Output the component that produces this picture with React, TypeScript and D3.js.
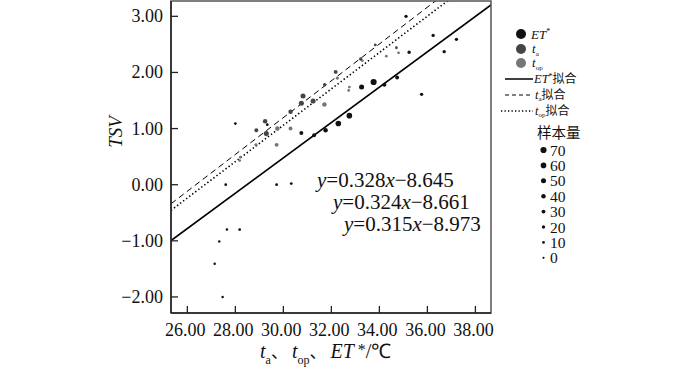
import React from "react";
import * as d3 from "d3";

// ---- data ----
// [x, TSV, sampleCount]
const etPoints: [number, number, number][] = [
  [28.0, 1.09, 10], [29.33, 1.07, 10], [30.75, 0.92, 30], [31.28, 0.88, 30],
  [31.76, 0.97, 40], [32.29, 1.09, 60], [32.75, 1.23, 60], [33.26, 1.74, 50],
  [33.76, 1.83, 70], [34.21, 1.78, 30], [34.74, 1.91, 30], [35.11, 3.0, 20],
  [35.24, 2.36, 20], [35.76, 1.61, 20], [36.24, 2.66, 20], [36.7, 2.37, 20],
  [37.21, 2.59, 20], [27.6, 0.0, 10], [29.72, 0.0, 10], [30.33, 0.02, 10],
  [27.65, -0.8, 5], [28.18, -0.8, 10], [27.33, -1.01, 5], [27.14, -1.41, 5],
  [27.47, -2.0, 5],
];
const taPoints: [number, number, number][] = [
  [28.875, 0.97, 30], [29.29, 0.91, 50], [29.24, 1.13, 40], [30.3, 1.3, 40],
  [30.82, 1.58, 50], [30.75, 1.45, 50], [31.24, 1.49, 50], [31.72, 1.78, 20],
  [32.18, 2.01, 30], [33.22, 2.24, 20], [33.83, 2.49, 10], [34.71, 2.44, 10],
];
const topPoints: [number, number, number][] = [
  [29.75, 1.0, 40], [30.3, 1.0, 30], [29.72, 0.71, 30], [28.86, 0.71, 20],
  [31.71, 1.43, 40], [32.25, 1.9, 20], [32.72, 1.68, 10], [32.75, 1.74, 10],
  [33.29, 2.21, 10], [34.29, 2.29, 10], [34.8, 2.35, 10], [28.18, 0.43, 10],
  [28.21, 0.49, 10],
];
// fits: [slope, intercept]
const fitEt: [number, number] = [0.315, -8.973];
const fitTa: [number, number] = [0.328, -8.645];
const fitTop: [number, number] = [0.324, -8.661];
const equations = ["0.328", "8.645", "0.324", "8.661", "0.315", "8.973"];
const xTicks = [26, 28, 30, 32, 34, 36, 38];
const yTicks = [-2, -1, 0, 1, 2, 3];
const sizeLegend = [70, 60, 50, 40, 30, 20, 10, 0];

const W = 700, H = 367;
const L = 171, R = 491, T = 1, B = 313;
const serif = "'Liberation Serif', 'Times New Roman', serif";
const cjk = "'Noto Sans CJK SC', sans-serif";

export default function App() {
  const x = d3.scaleLinear().domain([25.32, 38.65]).range([L, R]);
  const y = d3.scaleLinear().domain([-2.286, 3.273]).range([B, T]);
  const r = d3.scaleLinear().domain([0, 70]).range([1.1, 3.1]);
  const fitPath = (f: [number, number]) => {
    const xs = x.domain();
    return d3.line<[number, number]>().x((d) => x(d[0])).y((d) => y(d[1]))(
      xs.map((v) => [v, f[0] * v + f[1]] as [number, number])
    ) as string;
  };
  const cET = "#111", cTa = "#454545", cTop = "#767676";
  const eqX = [317, 333, 344];
  const eqY = [187, 209, 231];
  const eqs = [[equations[0], equations[1]], [equations[2], equations[3]], [equations[4], equations[5]]];

  return (
    <svg width={W} height={H} style={{ position: "absolute", left: 0, top: 0, background: "#fff" }}>
      <defs>
        <clipPath id="plot">
          <rect x={L} y={T} width={R - L} height={B - T} />
        </clipPath>
      </defs>
      <rect x={0} y={0} width={W} height={H} fill="#fff" />
      {/* fit lines */}
      <g clipPath="url(#plot)" fill="none" stroke="#000">
        <path d={fitPath(fitEt)} strokeWidth={1.7} />
        <path d={fitPath(fitTa)} strokeWidth={1} strokeDasharray="6,4" />
        <path d={fitPath(fitTop)} strokeWidth={1.6} strokeDasharray="1.4,2.4" />
      </g>
      {/* points */}
      <g clipPath="url(#plot)">
        {topPoints.map((p, i) => (
          <circle key={"o" + i} cx={x(p[0])} cy={y(p[1])} r={r(p[2])} fill={cTop} />
        ))}
        {taPoints.map((p, i) => (
          <circle key={"a" + i} cx={x(p[0])} cy={y(p[1])} r={r(p[2])} fill={cTa} />
        ))}
        {etPoints.map((p, i) => (
          <circle key={"e" + i} cx={x(p[0])} cy={y(p[1])} r={r(p[2])} fill={cET} />
        ))}
      </g>
      {/* frame */}
      <rect x={L} y={T} width={R - L} height={B - T} fill="none" stroke="#555" strokeWidth={1.5} />
      <line x1={L} x2={L} y1={T} y2={B} stroke="#222" strokeWidth={1.5} />
      <line x1={L} x2={R} y1={B} y2={B} stroke="#222" strokeWidth={1.5} />
      {/* ticks */}
      {xTicks.map((t) => (
        <g key={"xt" + t}>
          <line x1={x(t)} x2={x(t)} y1={B} y2={B - 7} stroke="#222" strokeWidth={1.3} />
          <text x={x(t) - 2} y={336} textAnchor="middle" fontFamily={serif} fontSize={18} fill="#111">
            {t.toFixed(2)}
          </text>
        </g>
      ))}
      {yTicks.map((t) => (
        <g key={"yt" + t}>
          <line x1={L} x2={L + 7} y1={y(t)} y2={y(t)} stroke="#222" strokeWidth={1.3} />
          <text x={163} y={y(t) + 6} textAnchor="end" fontFamily={serif} fontSize={18} fill="#111">
            {(t < 0 ? "\u2212" : "") + Math.abs(t).toFixed(2)}
          </text>
        </g>
      ))}
      {/* axis titles */}
      <text transform="translate(122,132) rotate(-90)" textAnchor="middle" fontFamily={serif}
        fontStyle="italic" fontSize={19} fill="#111">TSV</text>
      <text x={260} y={358} fontFamily={serif} fontSize={20} fill="#111">
        <tspan fontStyle="italic">t</tspan>
        <tspan fontSize={12} dy={6}>a</tspan>
        <tspan fontFamily={cjk} fontSize={17} dy={-6}>、</tspan>
        <tspan dx={4} fontStyle="italic">t</tspan>
        <tspan fontSize={12} dy={6}>op</tspan>
        <tspan fontFamily={cjk} fontSize={17} dy={-6}>、</tspan>
        <tspan dx={4} fontStyle="italic">ET</tspan>
        <tspan dx={4} fontSize={16} dy={-3}>*</tspan>
        <tspan dy={3}>/℃</tspan>
      </text>
      {/* equations */}
      {eqs.map((e, i) => (
        <text key={"eq" + i} x={eqX[i]} y={eqY[i]} fontFamily={serif} fontSize={21} fill="#111">
          <tspan fontStyle="italic">y</tspan>
          <tspan>={e[0]}</tspan>
          <tspan fontStyle="italic">x</tspan>
          <tspan>{"\u2212" + e[1]}</tspan>
        </text>
      ))}
      {/* legend */}
      <g fontFamily={serif} fill="#111">
        <circle cx={521} cy={34} r={5} fill={cET} />
        <text x={531} y={39} fontSize={13} fontStyle="italic">ET<tspan fontSize={8} dy={-5} fontStyle="normal">*</tspan></text>
        <circle cx={521} cy={49} r={5} fill={cTa} />
        <text x={532} y={53} fontSize={13} fontStyle="italic">t<tspan fontSize={7} dy={3} fontStyle="normal">a</tspan></text>
        <circle cx={521} cy={63} r={5} fill={cTop} />
        <text x={532} y={67} fontSize={13} fontStyle="italic">t<tspan fontSize={7} dy={3} fontStyle="normal">op</tspan></text>

        <line x1={505} x2={533} y1={79} y2={79} stroke="#000" strokeWidth={1.5} />
        <text x={534} y={83} fontSize={12.5}>
          <tspan fontStyle="italic">ET</tspan><tspan fontSize={8} dy={-4}>*</tspan>
          <tspan fontFamily={cjk} fontSize={12} dy={4}>拟合</tspan>
        </text>
        <line x1={505} x2={533} y1={95} y2={95} stroke="#000" strokeWidth={1} strokeDasharray="4,3" />
        <text x={535} y={99} fontSize={12.5}>
          <tspan fontStyle="italic">t</tspan><tspan fontSize={7} dy={2}>a</tspan>
          <tspan fontFamily={cjk} fontSize={12} dy={-2}>拟合</tspan>
        </text>
        <line x1={501} x2={533} y1={111} y2={111} stroke="#000" strokeWidth={1.5} strokeDasharray="1.3,2.2" />
        <text x={535} y={115} fontSize={12.5}>
          <tspan fontStyle="italic">t</tspan><tspan fontSize={7} dy={2}>op</tspan>
          <tspan fontFamily={cjk} fontSize={12} dy={-2}>拟合</tspan>
        </text>
        <text x={537} y={138} fontFamily={cjk} fontSize={14.5}>样本量</text>
        {sizeLegend.map((s, i) => (
          <g key={"sl" + i}>
            <circle cx={543.5} cy={150 + i * 15.4} r={r(s)} fill="#111" />
            <text x={550} y={150 + i * 15.4 + 5.5} fontSize={15.5}>{s}</text>
          </g>
        ))}
      </g>
    </svg>
  );
}
